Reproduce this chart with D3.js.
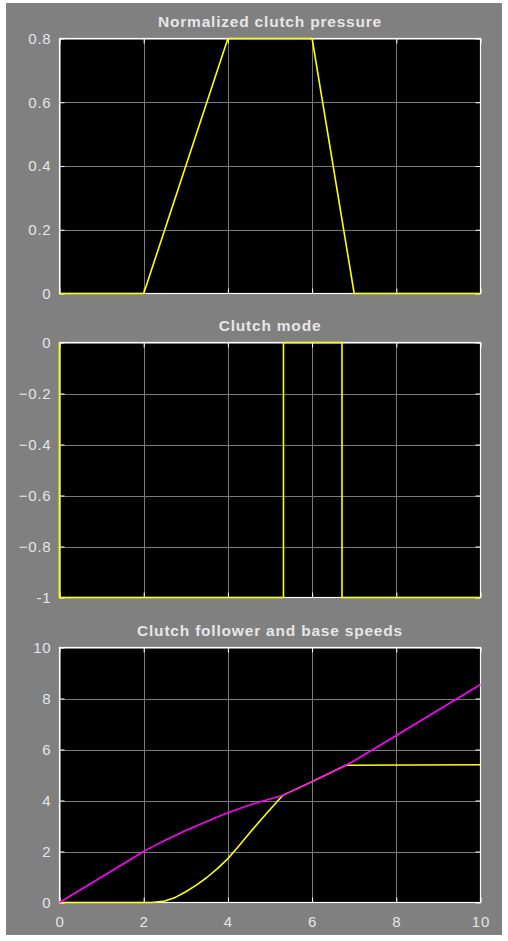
<!DOCTYPE html>
<html>
<head>
<meta charset="utf-8">
<script src="https://cdn.jsdelivr.net/npm/d3@7"></script>
<style>
  html, body { margin: 0; padding: 0; background: #fff; }
  svg { display: block; }
  text { font-family: "Liberation Sans", Arial, sans-serif; fill: #e6e6e6; }
</style>
</head>
<body>
<svg id="chart" width="508" height="941"></svg>
<script>
// time axis, shared by all three scopes
var timeTicks = [0, 2, 4, 6, 8, 10];

// normalized clutch pressure
var pressureT = [0, 2, 4, 6, 7, 10];
var pressureV = [0, 0, 0.8, 0.8, 0, 0];

// clutch mode (0 = locked, -1 = slipping)
var modeT = [0, 0, 5.32, 5.32, 6.71, 6.71, 10];
var modeV = [0, -1, -1, 0, 0, -1, -1];

// base speed (magenta)
var baseT = [0, 1, 2, 2.25, 2.5, 2.75, 3, 3.25, 3.5, 3.75, 4, 4.25, 4.5, 4.75, 5, 5.3, 6, 6.8, 7, 8, 9, 10];
var baseV = [0, 1, 2, 2.22, 2.43, 2.63, 2.82, 3.0, 3.18, 3.35, 3.52, 3.67, 3.81, 3.94, 4.06, 4.2, 4.74, 5.38, 5.56, 6.55, 7.55, 8.55];

// follower speed (yellow)
var followerT = [0, 2, 2.2, 2.5, 2.75, 3, 3.25, 3.5, 3.75, 4, 4.25, 4.5, 4.75, 5, 5.15, 5.3, 6, 6.8, 10];
var followerV = [0, 0, 0, 0.06, 0.2, 0.42, 0.68, 0.98, 1.33, 1.72, 2.2, 2.7, 3.18, 3.65, 3.92, 4.2, 4.74, 5.38, 5.4];

var titles = ["Normalized clutch pressure", "Clutch mode", "Clutch follower and base speeds"];
var yTicks1 = [0, 0.2, 0.4, 0.6, 0.8];
var yTicks2 = [-1, -0.8, -0.6, -0.4, -0.2, 0];
var yTicks3 = [0, 2, 4, 6, 8, 10];

///////////////////////////////////////////////////////////////////////////////

var zip = function (ts, vs) {
  return ts.map(function (t, i) { return {t: t, v: vs[i]}; });
};

var panels = [
  {title: titles[0], top: 38, ticks: yTicks1, domain: [0, 0.8],
   fmt: function (d) { return d === 0 ? "0" : d3.format(".1f")(d); },
   series: [{data: zip(pressureT, pressureV), color: "#ffff00", curve: d3.curveLinear}]},
  {title: titles[1], top: 342, ticks: yTicks2, domain: [-1, 0],
   fmt: function (d) { return d === 0 ? "0" : d === -1 ? "-1" : d3.format(".1f")(d); },
   series: [{data: zip(modeT, modeV), color: "#ffff00", curve: d3.curveLinear}]},
  {title: titles[2], top: 647, ticks: yTicks3, domain: [0, 10],
   fmt: d3.format("d"),
   series: [{data: zip(followerT, followerV), color: "#ffff00", curve: d3.curveLinear},
            {data: zip(baseT, baseV), color: "#ff00ff", curve: d3.curveLinear}]}
];

var left = 59.5, right = 480.5, panelH = 256;

var svg = d3.select("#chart");

svg.append("rect")
  .attr("x", 6).attr("y", 3)
  .attr("width", 496).attr("height", 932)
  .attr("fill", "#808080");

var x = d3.scaleLinear().domain([0, 10]).range([left, right]);

var styleText = function (sel, size) {
  sel.attr("fill", "#e6e6e6")
    .style("font-size", size)
    .style("letter-spacing", "0.8px")
    .style("font-family", "'Liberation Sans', Arial, sans-serif");
};

panels.forEach(function (p, idx) {
  var top = p.top + 0.5, bottom = p.top + panelH - 0.5;
  var y = d3.scaleLinear().domain(p.domain).range([bottom, top]);
  var g = svg.append("g");

  g.append("rect")
    .attr("x", left).attr("y", top)
    .attr("width", right - left).attr("height", bottom - top)
    .attr("fill", "#000");

  // grid
  g.append("g").selectAll("line").data(timeTicks).enter().append("line")
    .attr("x1", function (d) { return Math.round(x(d)) + 0.5; })
    .attr("x2", function (d) { return Math.round(x(d)) + 0.5; })
    .attr("y1", top).attr("y2", bottom)
    .attr("stroke", "#7a7a7a").attr("stroke-width", 1);
  g.append("g").selectAll("line").data(p.ticks).enter().append("line")
    .attr("y1", function (d) { return Math.round(y(d)) + 0.5; })
    .attr("y2", function (d) { return Math.round(y(d)) + 0.5; })
    .attr("x1", left).attr("x2", right)
    .attr("stroke", "#7a7a7a").attr("stroke-width", 1);

  g.append("rect")
    .attr("x", left).attr("y", top)
    .attr("width", right - left).attr("height", bottom - top)
    .attr("fill", "none")
    .attr("stroke", "#fff").attr("stroke-width", 1.2);

  // axes with inward ticks on all sides
  var axL = g.append("g").attr("transform", "translate(" + left + ",0)")
    .call(d3.axisLeft(y).tickValues(p.ticks).tickSize(-5).tickPadding(8).tickFormat(p.fmt));
  var axR = g.append("g").attr("transform", "translate(" + right + ",0)")
    .call(d3.axisRight(y).tickValues(p.ticks).tickSize(-5).tickFormat(""));
  var axT = g.append("g").attr("transform", "translate(0," + top + ")")
    .call(d3.axisTop(x).tickValues(timeTicks).tickSize(-5).tickFormat(""));
  var axB = g.append("g").attr("transform", "translate(0," + bottom + ")")
    .call(d3.axisBottom(x).tickValues(timeTicks).tickSize(-5).tickPadding(14)
      .tickFormat(idx === 2 ? d3.format("d") : ""));

  [axL, axR, axT, axB].forEach(function (a) {
    a.select(".domain").remove();
    a.selectAll(".tick line").attr("stroke", "#fff");
    styleText(a.selectAll(".tick text"), "15px");
  });

  // data on top of the frame, like the scope does
  p.series.forEach(function (s) {
    var line = d3.line()
      .x(function (d) { return x(d.t); })
      .y(function (d) { return y(d.v); })
      .curve(s.curve);
    g.append("path")
      .datum(s.data)
      .attr("d", line)
      .attr("fill", "none")
      .attr("stroke", s.color)
      .attr("stroke-width", 1.6)
      .attr("stroke-linejoin", "round");
  });

  var title = g.append("text")
    .attr("x", (left + right) / 2)
    .attr("y", p.top - 11)
    .attr("text-anchor", "middle")
    .style("font-weight", "bold")
    .text(p.title);
  styleText(title, "15.5px");
});
</script>
</body>
</html>
